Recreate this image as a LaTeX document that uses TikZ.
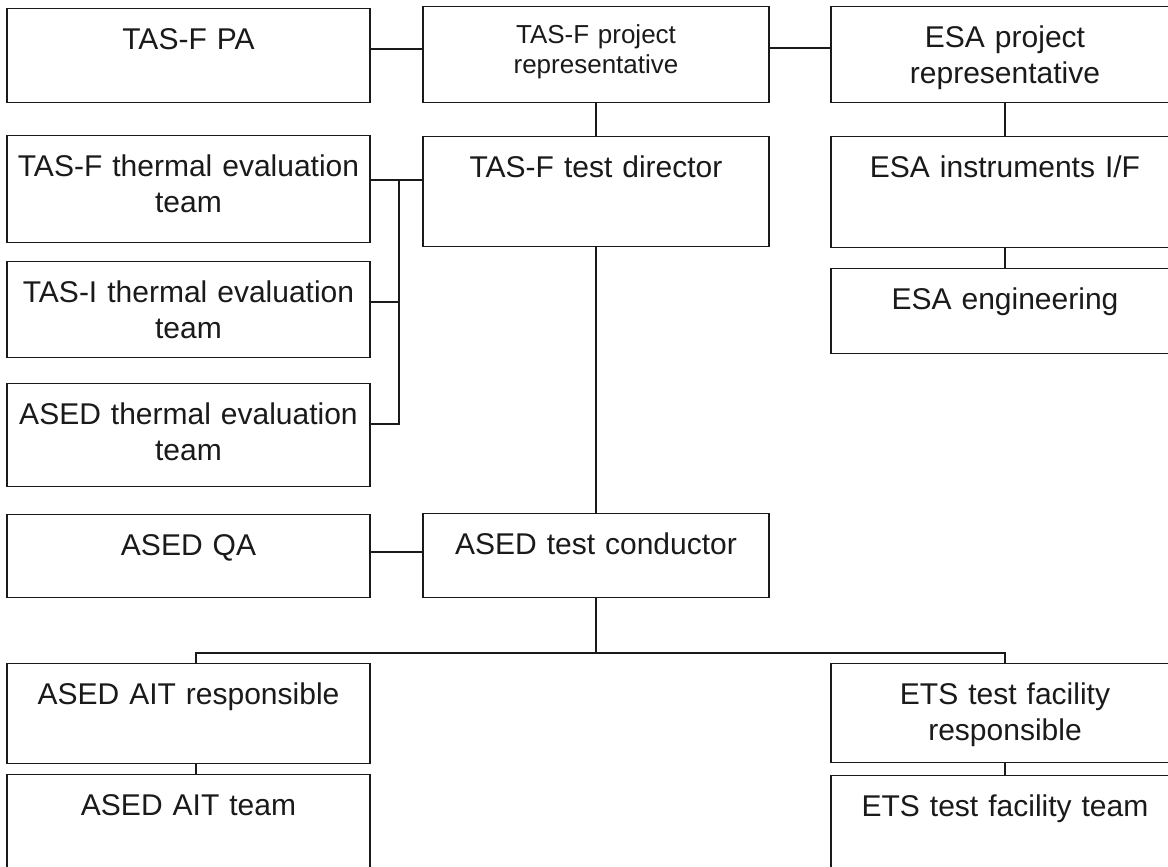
\documentclass[tikz,border=0pt]{standalone}
\usepackage{fontspec}
\setmainfont{Liberation Sans}
\usepackage{xcolor}
\usepackage{tikz}
\usetikzlibrary{calc}
\definecolor{ink}{HTML}{1A1A1A}
\definecolor{paper}{HTML}{FFFFFF}
\tikzset{
  link/.style={draw=ink, line width=0.6pt},
  orgbox/.style={draw=ink, line width=0.6pt, rectangle, inner sep=0pt, anchor=north,
    align=center, text=ink, font=\fontsize{15}{18}\selectfont, text height=20.5pt},
  lbox/.style={orgbox, text width=181.5pt},
  mbox/.style={orgbox, text width=173pt},
  rbox/.style={orgbox, text width=174pt},
  smalltext/.style={font=\fontsize{13}{15}\selectfont, text height=18.5pt}
}

\begin{document}
\begin{tikzpicture}[x=0.5pt, y=-0.5pt]
  \clip (0,0) rectangle (1168,867);
  \fill[paper] (0,0) rectangle (1168,867);

  \node[lbox, text depth=26.5pt] (pa) at (188.5,8) {TAS-F PA};
  \node[lbox, text depth=33pt] (tfth) at (188.5,135) {TAS-F thermal evaluation\\team};
  \node[lbox, text depth=27.5pt] (tith) at (188.5,261) {TAS-I thermal evaluation\\team};
  \node[lbox, text depth=31pt] (aseth) at (188.5,383) {ASED thermal evaluation\\team};
  \node[lbox, text depth=21pt] (qa) at (188.5,514) {ASED QA};
  \node[lbox, text depth=29.5pt] (aitresp) at (188.5,663) {ASED AIT responsible};
  \node[lbox, text depth=34.5pt] (aitteam) at (188.5,774) {ASED AIT team};

  \node[mbox, smalltext, text depth=29.5pt] (projrep) at (596,6) {TAS-F project\\representative};
  \node[mbox, text depth=34.5pt] (director) at (596,136) {TAS-F test director};
  \node[mbox, text depth=21.5pt] (conductor) at (596,513) {ASED test conductor};

  \node[rbox, text depth=27.5pt] (esarep) at (1005,6) {ESA project\\representative};
  \node[rbox, text depth=35pt] (esainst) at (1005,136) {ESA instruments I/F};
  \node[rbox, text depth=22pt] (esaeng) at (1005,268) {ESA engineering};
  \node[rbox, text depth=29pt] (etsresp) at (1005,663) {ETS test facility\\responsible};
  \node[rbox, text depth=34.5pt] (etsteam) at (1005,775) {ETS test facility team};

  \draw[link] (pa.east |- 0,49) -- (projrep.west |- 0,49);
  \draw[link] (projrep.east |- 0,48) -- (esarep.west |- 0,48);
  \draw[link] (projrep.south) -- (director.north);
  \draw[link] (esarep.south) -- (esainst.north);
  \draw[link] (esainst.south) -- (esaeng.north);

  \coordinate (tjoin) at (399,180);
  \draw[link] (tfth.east |- 0,180) -- (director.west |- 0,180);
  \draw[link] (tith.east |- 0,302) -- (tjoin |- 0,302);
  \draw[link] (aseth.east |- 0,424) -| (tjoin);

  \draw[link] (director.south) -- (conductor.north);
  \draw[link] (qa.east |- 0,552) -- (conductor.west |- 0,552);

  \coordinate (fork) at (596,653);
  \draw[link] (conductor.south) -- (fork);
  \draw[link] (aitresp.north -| 196,0) |- (fork) -| (etsresp.north);
  \draw[link] (aitresp.south -| 196,0) -- (aitteam.north -| 196,0);
  \draw[link] (etsresp.south) -- (etsteam.north);
\end{tikzpicture}
\end{document}
